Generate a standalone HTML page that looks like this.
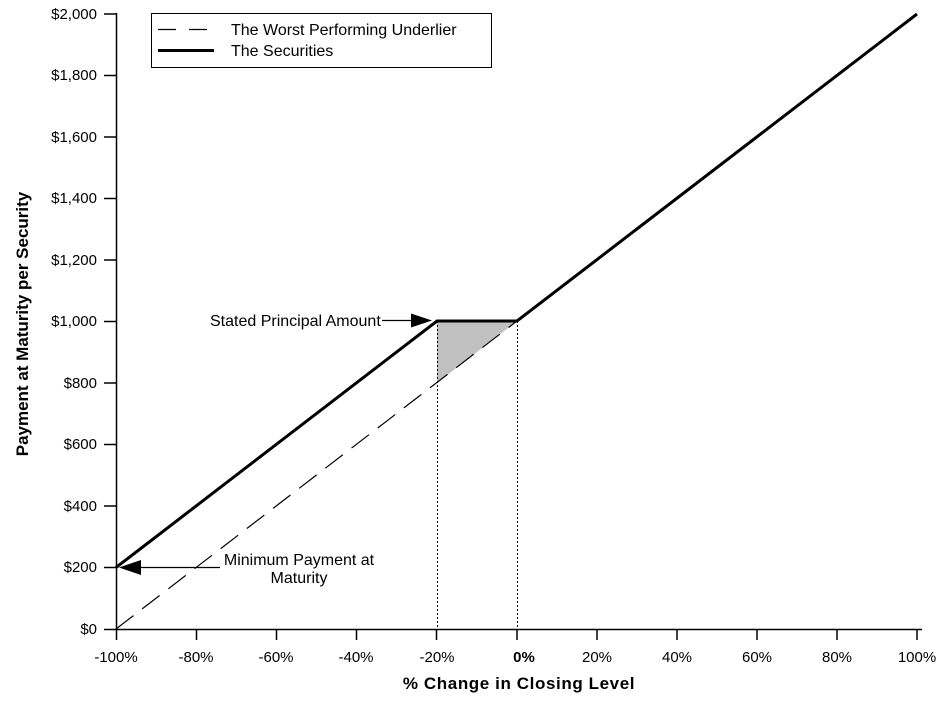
<!DOCTYPE html>
<html><head><style>
body{margin:0;background:#fff}
svg text{font-family:"Liberation Sans",Arial,sans-serif;font-size:15px;fill:#000}
</style></head><body>
<svg width="947" height="704" viewBox="0 0 947 704" xmlns="http://www.w3.org/2000/svg">
<g stroke="#000" stroke-width="1.5">
<line x1="116.5" y1="13" x2="116.5" y2="630"/>
<line x1="104" y1="629.5" x2="922" y2="629.5"/>
<line x1="104" y1="14" x2="116" y2="14"/>
<line x1="104" y1="75.5" x2="116" y2="75.5"/>
<line x1="104" y1="137" x2="116" y2="137"/>
<line x1="104" y1="198.5" x2="116" y2="198.5"/>
<line x1="104" y1="260" x2="116" y2="260"/>
<line x1="104" y1="321.5" x2="116" y2="321.5"/>
<line x1="104" y1="383" x2="116" y2="383"/>
<line x1="104" y1="444.5" x2="116" y2="444.5"/>
<line x1="104" y1="506" x2="116" y2="506"/>
<line x1="104" y1="567.5" x2="116" y2="567.5"/>
<line x1="116.5" y1="629" x2="116.5" y2="640"/>
<line x1="196.5" y1="629" x2="196.5" y2="640"/>
<line x1="276.5" y1="629" x2="276.5" y2="640"/>
<line x1="356.5" y1="629" x2="356.5" y2="640"/>
<line x1="436.5" y1="629" x2="436.5" y2="640"/>
<line x1="517" y1="629" x2="517" y2="640"/>
<line x1="597" y1="629" x2="597" y2="640"/>
<line x1="677" y1="629" x2="677" y2="640"/>
<line x1="757" y1="629" x2="757" y2="640"/>
<line x1="837" y1="629" x2="837" y2="640"/>
<line x1="917" y1="629" x2="917" y2="640"/>
</g>
<polygon points="437,321 517,321 437,383" fill="#c0c0c0"/>
<g stroke="#000" stroke-width="1" stroke-dasharray="2,2">
<line x1="437.5" y1="321" x2="437.5" y2="629"/>
<line x1="517.5" y1="321" x2="517.5" y2="629"/>
</g>
<line x1="116" y1="629" x2="517" y2="321" stroke="#000" stroke-width="1.2" stroke-dasharray="22,11"/>
<polyline points="116,567.5 437,321 517,321 917,14" fill="none" stroke="#000" stroke-width="3"/>
<line x1="130" y1="567.5" x2="220" y2="567.5" stroke="#000" stroke-width="1.2"/>
<polygon points="119,567.5 141,560 141,575" fill="#000"/>
<line x1="382" y1="320.5" x2="415" y2="320.5" stroke="#000" stroke-width="1.2"/>
<polygon points="432,320.5 411,313.5 411,327.5" fill="#000"/>
<text x="210" y="326" style="font-size:16px">Stated Principal Amount</text>
<text x="299" y="565" text-anchor="middle" style="font-size:16px">Minimum Payment at</text>
<text x="299" y="583" text-anchor="middle" style="font-size:16px">Maturity</text>
<rect x="151.5" y="13.5" width="340" height="54" fill="#fff" stroke="#000" stroke-width="1"/>
<line x1="158" y1="29.5" x2="214" y2="29.5" stroke="#000" stroke-width="1.2" stroke-dasharray="18,13"/>
<line x1="158" y1="50.5" x2="214" y2="50.5" stroke="#000" stroke-width="3"/>
<text x="231" y="35" style="font-size:16px">The Worst Performing Underlier</text>
<text x="231" y="56" style="font-size:16px">The Securities</text>
<g text-anchor="end">
<text x="97" y="19">$2,000</text>
<text x="97" y="80">$1,800</text>
<text x="97" y="142">$1,600</text>
<text x="97" y="203">$1,400</text>
<text x="97" y="265">$1,200</text>
<text x="97" y="326">$1,000</text>
<text x="97" y="388">$800</text>
<text x="97" y="449">$600</text>
<text x="97" y="511">$400</text>
<text x="97" y="572">$200</text>
<text x="97" y="634">$0</text>
</g>
<g text-anchor="middle">
<text x="116" y="662">-100%</text>
<text x="196" y="662">-80%</text>
<text x="276" y="662">-60%</text>
<text x="356" y="662">-40%</text>
<text x="437" y="662">-20%</text>
<text x="524" y="662" font-weight="bold">0%</text>
<text x="597" y="662">20%</text>
<text x="677" y="662">40%</text>
<text x="757" y="662">60%</text>
<text x="837" y="662">80%</text>
<text x="917" y="662">100%</text>
<text x="519" y="689" font-weight="bold" style="font-size:17px;letter-spacing:0.6px">% Change in Closing Level</text>
<text x="0" y="0" font-weight="bold" style="font-size:17px" transform="translate(28,324) rotate(-90)">Payment at Maturity per Security</text>
</g>
</svg>
</body></html>
